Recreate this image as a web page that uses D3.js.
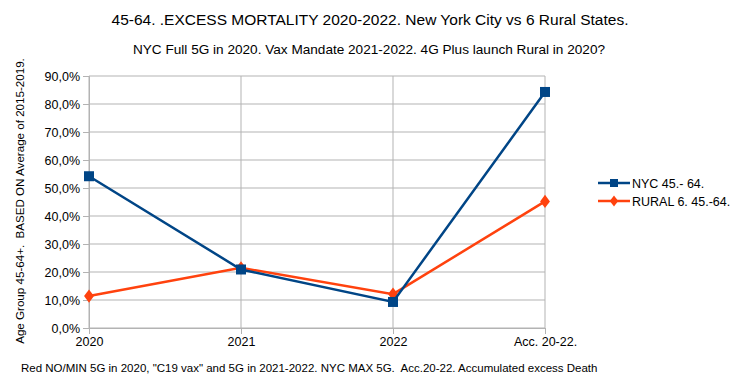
<!DOCTYPE html>
<html>
<head>
<meta charset="utf-8">
<script src="https://cdn.jsdelivr.net/npm/d3@7"></script>
<style>
  body { margin: 0; background: #fff; }
  svg text { font-family: "Liberation Sans", Arial, sans-serif; fill: #000; white-space: pre; }
</style>
</head>
<body>
<svg id="chart" width="740" height="387"></svg>
<script>
var categories = ["2020", "2021", "2022", "Acc. 20-22."];
var nycValues = [54.2, 20.9, 9.3, 84.3];
var ruralValues = [11.4, 21.5, 12.1, 45.2];
var yTicks = [0, 10, 20, 30, 40, 50, 60, 70, 80, 90];
var seriesNames = ["NYC 45.- 64.", "RURAL 6. 45.-64."];

var margin = {top: 76, left: 89, right: 195, bottom: 59};
var width = 740 - margin.left - margin.right;
var height = 387 - margin.top - margin.bottom;

var svg = d3.select("#chart");

var x = d3.scalePoint().domain(categories).range([0, width]);
var y = d3.scaleLinear().domain([0, 90]).range([height, 0]);

var main = svg.append("g")
  .attr("transform", "translate(" + margin.left + "," + margin.top + ")");

// grid lines
main.selectAll(".hgrid").data(yTicks).enter().append("line")
  .attr("x1", 0).attr("x2", width)
  .attr("y1", function(d) { return y(d); }).attr("y2", function(d) { return y(d); })
  .attr("stroke", "#b3b3b3").attr("stroke-width", 1);

main.selectAll(".vgrid").data(categories).enter().append("line")
  .attr("x1", function(d) { return x(d); }).attr("x2", function(d) { return x(d); })
  .attr("y1", 0).attr("y2", height)
  .attr("stroke", "#b3b3b3").attr("stroke-width", 1);

// axes
var yAxis = d3.axisLeft(y).tickValues(yTicks).tickSize(6).tickPadding(3)
  .tickFormat(function(d) { return d.toFixed(1).replace(".", ",") + "%"; });
var gy = main.append("g").call(yAxis);
gy.select(".domain").attr("stroke", "#b3b3b3");
gy.selectAll(".tick line").attr("stroke", "#b3b3b3");
gy.selectAll(".tick text").style("font-size", "12.5px").attr("fill", "#000");

var xAxis = d3.axisBottom(x).tickSize(6).tickPadding(3);
var gx = main.append("g").attr("transform", "translate(0," + height + ")").call(xAxis);
gx.select(".domain").attr("stroke", "#b3b3b3");
gx.selectAll(".tick line").attr("stroke", "#b3b3b3");
gx.selectAll(".tick text").style("font-size", "12.5px").attr("fill", "#000");

var line = d3.line()
  .x(function(d, i) { return x(categories[i]); })
  .y(function(d) { return y(d); });

// rural series
main.append("path").datum(ruralValues)
  .attr("d", line).attr("fill", "none")
  .attr("stroke", "#ff420e").attr("stroke-width", 2.5);
main.selectAll(".rdot").data(ruralValues).enter().append("path")
  .attr("d", d3.symbol().type(d3.symbolDiamond).size(50))
  .attr("transform", function(d, i) { return "translate(" + x(categories[i]) + "," + y(d) + ") scale(1.3,1)"; })
  .attr("fill", "#ff420e");

// nyc series
main.append("path").datum(nycValues)
  .attr("d", line).attr("fill", "none")
  .attr("stroke", "#004586").attr("stroke-width", 2.5);
main.selectAll(".ndot").data(nycValues).enter().append("rect")
  .attr("x", function(d, i) { return x(categories[i]) - 5; })
  .attr("y", function(d) { return y(d) - 5; })
  .attr("width", 10).attr("height", 10)
  .attr("fill", "#004586");

// legend
var legend = svg.append("g").attr("transform", "translate(598,183)");
legend.append("line").attr("x1", 0).attr("x2", 32).attr("y1", 0).attr("y2", 0)
  .attr("stroke", "#004586").attr("stroke-width", 2.5);
legend.append("rect").attr("x", 12).attr("y", -4).attr("width", 8).attr("height", 8).attr("fill", "#004586");
legend.append("text").attr("x", 34).attr("y", 4.5).text(seriesNames[0]).style("font-size", "12.5px");
legend.append("line").attr("x1", 0).attr("x2", 32).attr("y1", 18).attr("y2", 18)
  .attr("stroke", "#ff420e").attr("stroke-width", 2.5);
legend.append("path").attr("d", d3.symbol().type(d3.symbolDiamond).size(36))
  .attr("transform", "translate(16,18) scale(1.3,1)").attr("fill", "#ff420e");
legend.append("text").attr("x", 34).attr("y", 22.5).text(seriesNames[1]).style("font-size", "12.5px");

// titles
svg.append("text").attr("x", 370).attr("y", 25).attr("text-anchor", "middle")
  .style("font-size", "15.5px")
  .text("45-64. .EXCESS MORTALITY 2020-2022. New York City vs 6 Rural States.");
svg.append("text").attr("x", 369).attr("y", 54).attr("text-anchor", "middle")
  .style("font-size", "13.6px")
  .text("NYC Full 5G in 2020. Vax Mandate 2021-2022. 4G Plus launch Rural in 2020?");
svg.append("text").attr("transform", "translate(24,201) rotate(-90)").attr("text-anchor", "middle")
  .style("font-size", "11.6px")
  .text("Age Group 45-64+.  BASED ON Average of 2015-2019.");
svg.append("text").attr("x", 21).attr("y", 372)
  .style("font-size", "11.5px")
  .text("Red NO/MIN 5G in 2020, \"C19 vax\" and 5G in 2021-2022. NYC MAX 5G.  Acc.20-22. Accumulated excess Death");
</script>
</body>
</html>
